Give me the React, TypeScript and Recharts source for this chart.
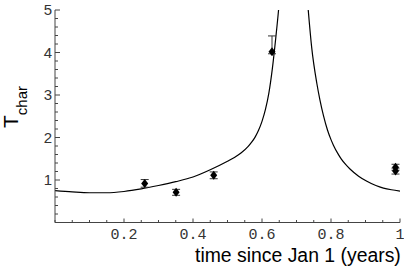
import React from "react";
import { ComposedChart, Line, Scatter, XAxis, YAxis, ErrorBar, Label } from "recharts";

const xTicks = [0, 0.05, 0.1, 0.15, 0.2, 0.25, 0.3, 0.35, 0.4, 0.45, 0.5, 0.55, 0.6, 0.65, 0.7, 0.75, 0.8, 0.85, 0.9, 0.95, 1];
const xMajorLabels: Record<string, string> = { "0.2": "0.2", "0.4": "0.4", "0.6": "0.6", "0.8": "0.8", "1": "1" };
const yTicks = [0, 0.2, 0.4, 0.6, 0.8, 1, 1.2, 1.4, 1.6, 1.8, 2, 2.2, 2.4, 2.6, 2.8, 3, 3.2, 3.4, 3.6, 3.8, 4, 4.2, 4.4, 4.6, 4.8, 5];
const yMajorLabels: Record<string, string> = { "1": "1", "2": "2", "3": "3", "4": "4", "5": "5" };

const curveLeftX = [0, 0.05, 0.1, 0.15, 0.2, 0.25, 0.3, 0.35, 0.4, 0.45, 0.5, 0.52, 0.54, 0.56, 0.57, 0.58, 0.59, 0.6, 0.61, 0.62, 0.63, 0.64, 0.648, 0.655];
const curveLeftY = [0.75, 0.72, 0.7, 0.7, 0.73, 0.79, 0.87, 0.96, 1.07, 1.24, 1.44, 1.53, 1.64, 1.79, 1.89, 2.01, 2.17, 2.38, 2.66, 3.05, 3.62, 4.35, 5.0, 5.7];
const curveRightX = [0.728, 0.734, 0.744, 0.759, 0.768, 0.778, 0.79, 0.8, 0.807, 0.82, 0.83, 0.843, 0.855, 0.88, 0.904, 0.93, 0.952, 0.975, 1.0];
const curveRightY = [5.6, 5.0, 4.12, 3.27, 2.88, 2.52, 2.17, 1.95, 1.82, 1.62, 1.49, 1.36, 1.26, 1.09, 0.97, 0.87, 0.81, 0.77, 0.74];

const obsX = [0.26, 0.351, 0.46, 0.629, 0.987, 0.987];
const obsY = [0.92, 0.71, 1.11, 4.02, 1.3, 1.21];
const obsErrLow = [0.09, 0.07, 0.08, 0.05, 0.07, 0.07];
const obsErrHigh = [0.09, 0.07, 0.08, 0.37, 0.07, 0.07];

const leftData = curveLeftX.map((x, i) => ({ x, y: curveLeftY[i] }));
const rightData = curveRightX.map((x, i) => ({ x, y: curveRightY[i] }));
const obsData = obsX.map((x, i) => ({ x, y: obsY[i], err: [obsErrLow[i], obsErrHigh[i]] }));

const axisColor = "#444";

const XTick = (props: any) => {
  const { x, y, payload } = props;
  const key = String(Number(payload.value.toFixed(2)));
  const label = xMajorLabels[key];
  return (
    <g>
      <line x1={x} x2={x} y1={y} y2={y - (label ? 4 : 2.5)} stroke={axisColor} strokeWidth={1} />
      {label && (
        <text x={x} y={y + 16} textAnchor="middle" fontFamily="'Liberation Mono', monospace" fontSize={15} fill="#333">
          {label}
        </text>
      )}
    </g>
  );
};

const YTick = (props: any) => {
  const { x, y, payload } = props;
  const key = String(Number(payload.value.toFixed(2)));
  const label = yMajorLabels[key];
  if (payload.value === 0) return <g />;
  return (
    <g>
      <line x1={x} x2={x + (label ? 5 : 3)} y1={y} y2={y} stroke={axisColor} strokeWidth={1} />
      {label && (
        <text x={x - 3} y={y + 5} textAnchor="end" fontFamily="'Liberation Sans', Arial, sans-serif" fontSize={15} fill="#333">
          {label}
        </text>
      )}
    </g>
  );
};

const Diamond = (props: any) => {
  const { cx, cy } = props;
  return (
    <polygon
      points={`${cx},${cy - 4.5} ${cx + 3.5},${cy} ${cx},${cy + 4.5} ${cx - 3.5},${cy}`}
      fill="#000"
    />
  );
};

export default function App() {
  return (
    <div style={{ position: "absolute", left: 0, top: 0, width: 404, height: 269, background: "#fff" }}>
      <ComposedChart width={404} height={269} margin={{ top: 10, right: 4, bottom: 0, left: 0 }}>
        <XAxis
          type="number"
          dataKey="x"
          domain={[0, 1]}
          ticks={xTicks}
          interval={0}
          allowDataOverflow
          height={46.5}
          tickSize={0}
          tickMargin={0}
          tickLine={false}
          tick={<XTick />}
          axisLine={{ stroke: axisColor, strokeWidth: 1 }}
        >
          <Label
            content={() => (
              <text x={195} y={262} fontFamily="'Liberation Sans', Arial, sans-serif" fontSize={19.4} fill="#000">
                time since Jan 1 (years)
              </text>
            )}
          />
        </XAxis>
        <YAxis
          type="number"
          dataKey="y"
          domain={[0, 5]}
          ticks={yTicks}
          interval={0}
          allowDataOverflow
          width={55}
          tickSize={0}
          tickMargin={0}
          tickLine={false}
          tick={<YTick />}
          axisLine={{ stroke: axisColor, strokeWidth: 1 }}
        >
          <Label
            content={() => (
              <text
                transform="translate(18,128) rotate(-90)"
                fontFamily="'Liberation Sans', Arial, sans-serif"
                fontSize={21}
                fill="#000"
              >
                T
                <tspan dy={9} fontSize={15}>char</tspan>
              </text>
            )}
          />
        </YAxis>
        <Line data={leftData} dataKey="y" type="monotone" stroke="#000" strokeWidth={1.2} dot={false} isAnimationActive={false} />
        <Line data={rightData} dataKey="y" type="monotone" stroke="#000" strokeWidth={1.2} dot={false} isAnimationActive={false} />
        <Scatter data={obsData} dataKey="y" shape={<Diamond />} isAnimationActive={false}>
          <ErrorBar dataKey="err" direction="y" width={4} stroke="#333" strokeWidth={1} isAnimationActive={false} />
        </Scatter>
      </ComposedChart>
    </div>
  );
}
